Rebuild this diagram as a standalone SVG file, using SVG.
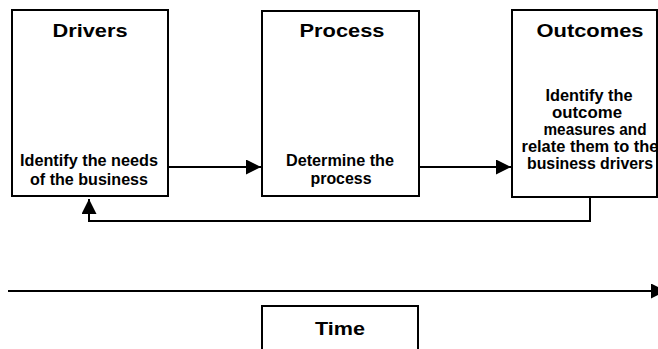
<svg xmlns="http://www.w3.org/2000/svg" width="658" height="349" viewBox="0 0 658 349">
  <defs>
    <style>
      .box { fill: #ffffff; stroke: #000000; stroke-width: 2; }
      .title { font-family: "Liberation Sans", Arial, sans-serif; font-weight: bold; font-size: 18px; fill: #000000; text-anchor: middle; }
      .body { font-family: "Liberation Sans", Arial, sans-serif; font-weight: bold; font-size: 16px; fill: #000000; text-anchor: middle; }
      .wire { fill: none; stroke: #000000; stroke-width: 2; }
    </style>
    <marker id="head" viewBox="0 0 15 15" refX="15" refY="7.5" markerWidth="15" markerHeight="15" markerUnits="userSpaceOnUse" orient="auto">
      <path d="M0,0 L15,7.5 L0,15 Z" fill="#000000"/>
    </marker>
  </defs>
  <rect width="658" height="349" fill="#ffffff"/>

  <g id="drivers">
    <rect class="box" x="12" y="10" width="156" height="186"/>
    <text class="title" x="90" y="37" textLength="75" lengthAdjust="spacingAndGlyphs">Drivers</text>
    <text class="body" x="89" y="166" textLength="138" lengthAdjust="spacingAndGlyphs">Identify the needs</text>
    <text class="body" x="89" y="185" textLength="118" lengthAdjust="spacingAndGlyphs">of the business</text>
  </g>

  <g id="process">
    <rect class="box" x="262" y="11" width="157" height="185"/>
    <text class="title" x="342" y="37" textLength="85" lengthAdjust="spacingAndGlyphs">Process</text>
    <text class="body" x="340" y="166" textLength="108" lengthAdjust="spacingAndGlyphs">Determine the</text>
    <text class="body" x="341" y="184" textLength="61" lengthAdjust="spacingAndGlyphs">process</text>
  </g>

  <g id="outcomes">
    <rect class="box" x="512" y="10" width="145" height="187"/>
    <text class="title" x="590" y="37" textLength="107" lengthAdjust="spacingAndGlyphs">Outcomes</text>
    <text class="body" x="589" y="101" textLength="87" lengthAdjust="spacingAndGlyphs">Identify the</text>
    <text class="body" x="587" y="118" textLength="70" lengthAdjust="spacingAndGlyphs">outcome</text>
    <text class="body" x="595" y="135" textLength="103" lengthAdjust="spacingAndGlyphs">measures and</text>
    <text class="body" x="590" y="152" textLength="137" lengthAdjust="spacingAndGlyphs">relate them to the</text>
    <text class="body" x="590" y="169" textLength="126" lengthAdjust="spacingAndGlyphs">business drivers</text>
  </g>

  <g id="time">
    <rect class="box" x="262" y="306" width="156" height="60"/>
    <text class="title" x="340" y="335" textLength="50" lengthAdjust="spacingAndGlyphs">Time</text>
  </g>

  <g id="connectors">
    <line class="wire" x1="168" y1="167" x2="261" y2="167" marker-end="url(#head)"/>
    <line class="wire" x1="419" y1="167" x2="511" y2="167" marker-end="url(#head)"/>
    <polyline class="wire" points="590,197 590,221 89,221 89,199" marker-end="url(#head)"/>
    <line class="wire" x1="8" y1="291" x2="666" y2="291" marker-end="url(#head)"/>
  </g>
</svg>
